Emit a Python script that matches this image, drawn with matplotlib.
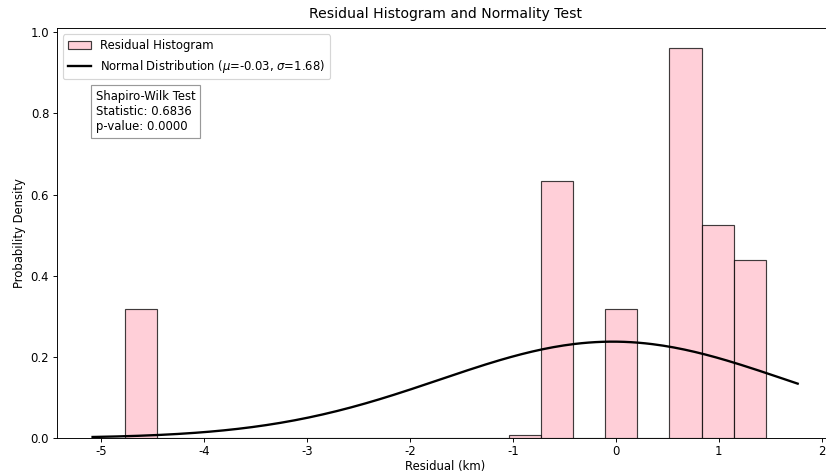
import numpy as np
import matplotlib
matplotlib.use('Agg')
import matplotlib.pyplot as plt

plt.rcParams['axes.unicode_minus'] = False

# histogram bins (20 bins) and densities
bin_edges = np.linspace(-4.774, 1.456, 21)
densities = [0.319, 0, 0, 0, 0, 0, 0, 0, 0, 0,
             0, 0, 0.0074, 0.634, 0, 0.319, 0, 0.961, 0.524, 0.4375]

# fitted normal distribution and test result
mu = -0.03
sigma = 1.68
sw_stat = 0.6836
sw_p = 0.0000

fig = plt.figure(figsize=(826 / 84, 474 / 84), dpi=84)
ax = fig.add_axes([0.0694, 0.0759, 0.939, 0.864])

centers = (bin_edges[:-1] + bin_edges[1:]) / 2
ax.hist(centers, bins=bin_edges, weights=densities, color='pink',
        edgecolor='black', alpha=0.75, label='Residual Histogram')

# normal curve over the current x range
xmin, xmax = ax.get_xlim()
x = np.linspace(xmin, xmax, 200)
pdf = np.exp(-0.5 * ((x - mu) / sigma) ** 2) / (sigma * np.sqrt(2 * np.pi))
ax.plot(x, pdf, 'k-', linewidth=2,
        label=f'Normal Distribution ($\\mu$={mu:.2f}, $\\sigma$={sigma:.2f})')

ax.text(0.05, 0.85, f'Shapiro-Wilk Test\nStatistic: {sw_stat:.4f}\np-value: {sw_p:.4f}',
        transform=ax.transAxes, va='top',
        bbox=dict(facecolor='white', edgecolor='gray', alpha=0.8))

ax.set_title('Residual Histogram and Normality Test', pad=9)
ax.set_xlabel('Residual (km)', labelpad=2)
ax.set_ylabel('Probability Density')
ax.tick_params(axis='x', pad=2.5)
ax.legend(loc='upper left')

fig.savefig('out.png', dpi=84)
